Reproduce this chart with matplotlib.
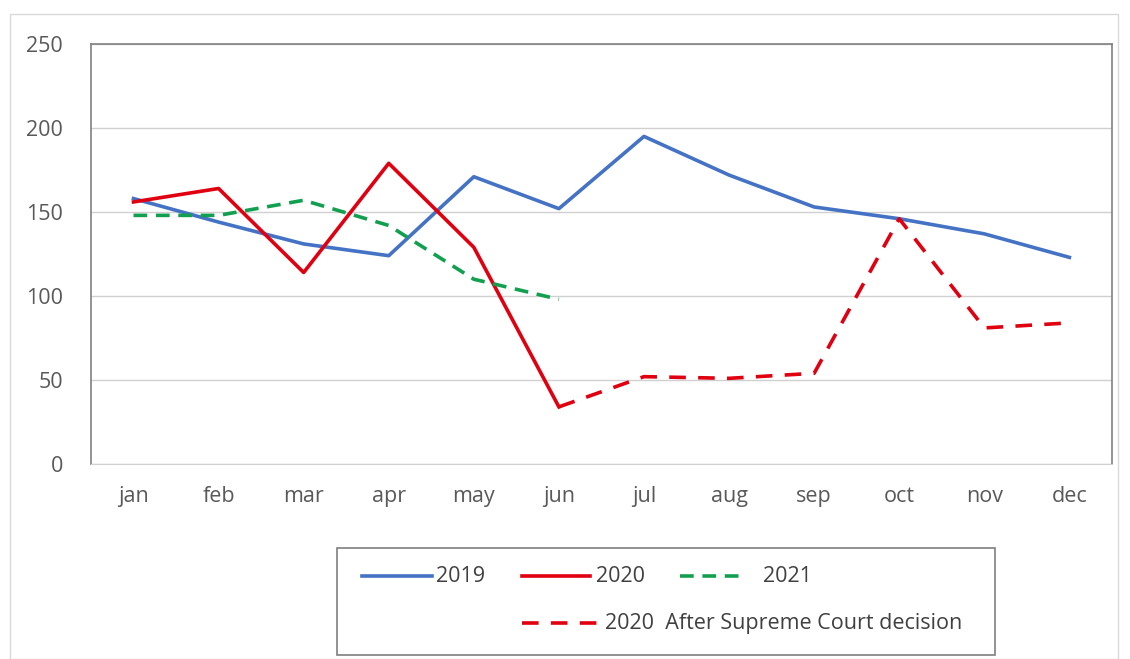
import numpy as np
import matplotlib.pyplot as plt
from matplotlib.lines import Line2D
from matplotlib.patches import Rectangle

plt.rcParams['font.family'] = ['Open Sans', 'DejaVu Sans']

# данные
months = ['jan', 'feb', 'mar', 'apr', 'may', 'jun', 'jul', 'aug', 'sep', 'oct', 'nov', 'dec']
y2019 = [158, 144, 131, 124, 171, 152, 195, 172, 153, 146, 137, 123]
y2020 = [156, 164, 114, 179, 129, 34]
y2021 = [148, 148, 157, 142, 110, 98]
y2020_after = [34, 52, 51, 54, 146, 81, 84]   # jun..dec

c_blue = '#4472C4'
c_red = '#E0000F'
c_green = '#12A050'
grey_txt = '#595959'

fig = plt.figure(figsize=(11.30, 6.59), dpi=100)
ax = fig.add_axes([0.0805, 0.2959, 0.9035, 0.6373])

x = np.arange(len(months))
ax.plot(x, y2019, color=c_blue, lw=2.6, solid_joinstyle='round')
ax.plot(x[:6], y2020, color=c_red, lw=2.6)
ax.plot(x[:6], y2021, color=c_green, lw=2.6, dashes=(3.8, 2.4))
ax.plot(x[5:], y2020_after, color=c_red, lw=2.6, dashes=(4.6, 3.4))

ax.set_xlim(-0.5, 11.5)
ax.set_ylim(0, 250)
ax.set_yticks(range(0, 251, 50))
ax.set_xticks(x)
ax.set_xticklabels(months)
ax.grid(axis='y', color='#D0D0D0', lw=1)
ax.set_axisbelow(True)
ax.tick_params(length=0, labelsize=15.5, colors=grey_txt)
ax.tick_params(axis='x', pad=16)
ax.tick_params(axis='y', pad=20)
for s in ['left', 'top', 'right']:
    ax.spines[s].set_color('#808080')
    ax.spines[s].set_linewidth(1.2)
ax.spines['bottom'].set_color('#D0D0D0')

# рамка вокруг всей картинки
fig.patches.append(Rectangle((10 / 1130, 0), 1108 / 1130, 1 - 14 / 659, transform=fig.transFigure,
                             fill=False, edgecolor='#D9D9D9', lw=1))

# легенда вручную
W, H = 1130, 659
def fx(p):
    return p / W
def fy(p):
    return 1 - p / H

fig.patches.append(Rectangle((fx(337), fy(655)), fx(995 - 337), (655 - 548) / H, transform=fig.transFigure,
                             fill=False, edgecolor='#7F7F7F', lw=1.2))
items = [
    (362, 432, 576, c_blue, None, '2019', 436),
    (522, 590, 576, c_red, None, '2020', 596),
    (680, 740, 576, c_green, (3.8, 2.4), '2021', 763),
    (522, 598, 623, c_red, (4.6, 3.4), '2020  After Supreme Court decision', 605),
]
for x0, x1, yy, col, dsh, lab, tx in items:
    ln = Line2D([fx(x0), fx(x1)], [fy(yy), fy(yy)], transform=fig.transFigure, color=col, lw=2.6)
    if dsh:
        ln.set_dashes(dsh)
    fig.lines.append(ln)
    fig.text(fx(tx), fy(yy), lab, fontsize=15.5, color='#404040', va='center', ha='left')

fig.savefig('out.png', dpi=100)
